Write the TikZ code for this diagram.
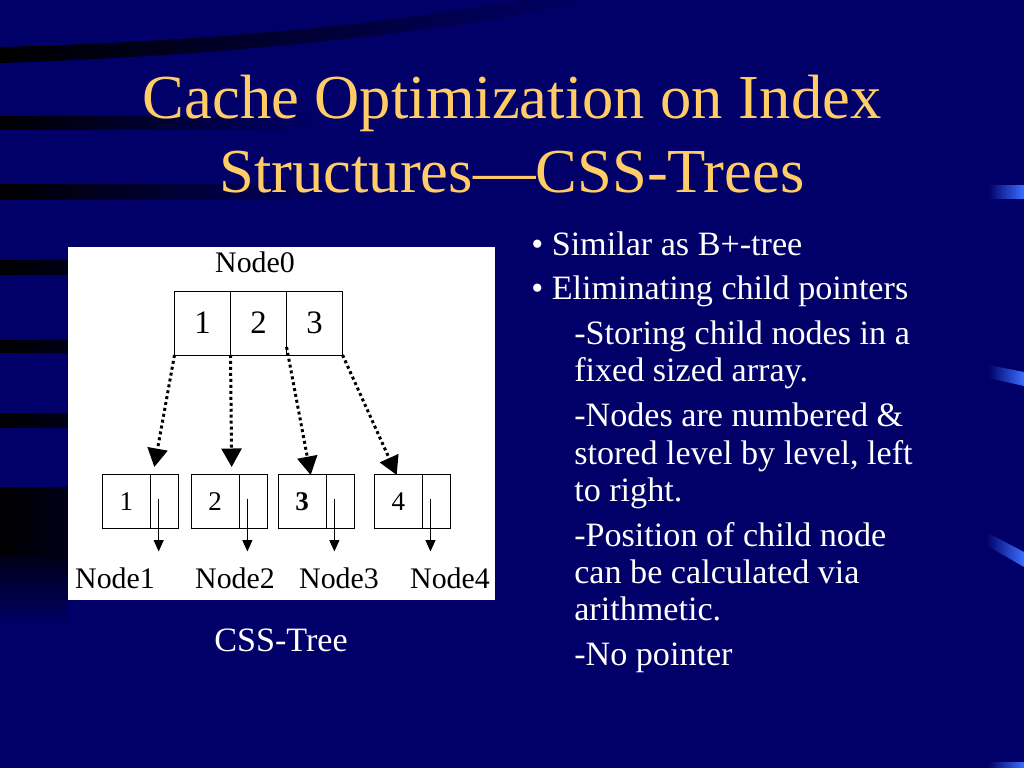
\documentclass[tikz,border=0pt]{standalone}
\usepackage{fontspec}
\setmainfont{Liberation Serif}
\usepackage{tikz}
\usetikzlibrary{arrows.meta,positioning,calc}
\definecolor{bgnavy}{RGB}{0,0,104}
\definecolor{titlec}{RGB}{255,204,102}
\definecolor{tickc}{RGB}{60,110,255}

\begin{document}
\begin{tikzpicture}[x=0.703125pt, y=-0.703125pt,
  titletext/.style={text=titlec, font=\fontsize{44}{51}\selectfont, inner sep=0pt},
  bodytext/.style={text=white, font=\fontsize{24}{26}\selectfont, inner sep=0pt, anchor=base west},
  label/.style={font=\fontsize{21}{24}\selectfont, inner sep=0pt, anchor=base},
  topcell/.style={draw, line width=0.7pt, minimum width=39.4pt, minimum height=45pt, inner sep=0pt, outer sep=0pt, font=\fontsize{23}{25}\selectfont},
  keycell/.style={draw, line width=0.7pt, minimum width=34pt, minimum height=37.8pt, inner sep=0pt, outer sep=0pt, font=\fontsize{19}{21}\selectfont},
  ptrcell/.style={draw, line width=0.7pt, minimum width=19.7pt, minimum height=37.8pt, inner sep=0pt, outer sep=0pt},
  dotarrow/.style={line width=2.1pt, dash pattern=on 2.1pt off 2.1pt, -{Triangle[width=14pt,length=13pt]}},
  thinarrow/.style={line width=0.7pt, -{Triangle[width=7pt,length=8pt]}}]
  % background
  \fill[bgnavy] (0,0) rectangle (1024,768);
  \useasboundingbox (0,0) rectangle (1024,768);
  \shade[left color=black, right color=bgnavy] (0,63) .. controls (250,55) and (450,30) .. (600,0) -- (520,0) .. controls (380,25) and (200,42) .. (0,47) -- cycle;
  \foreach \ya/\yb/\xr in {117/130/320, 185/200/340, 261/275/300, 340/352/300, 413/427/300, 487/555/300} {
    \shade[left color=black, middle color=black!60!bgnavy, right color=bgnavy] (0,\ya) rectangle (\xr,\yb);
  }
  \shade[top color=black!80!bgnavy, bottom color=bgnavy] (0,555) rectangle (68,625);
  % ticks on the right
  \shade[left color=bgnavy, right color=tickc] (988,186) rectangle (1024,199);
  \shade[left color=bgnavy, right color=tickc] (988,365) -- (1024,372) -- (1024,386) -- (988,378) -- cycle;
  \shade[left color=bgnavy, right color=tickc] (986,532) -- (1024,552) -- (1024,567) -- (986,545) -- cycle;
  \shade[left color=bgnavy, right color=tickc] (988,762) rectangle (1024,768);

  % title
  \node[titletext, anchor=base] (title1) at (512,119) {Cache Optimization on Index};
  \node[titletext, anchor=base] (title2) at (512,193) {Structures—CSS-Trees};

  % picture of the tree
  \fill[white] (68,247) rectangle (495,600);
  \node[label] (n0) at (255,273) {Node0};
  \node[topcell] (t1) at (202.5,323) {1};
  \node[topcell, right=0pt of t1] (t2) {2};
  \node[topcell, right=0pt of t2] (t3) {3};

  \node[keycell] (k1) at (126.5,501.5) {1};
  \node[ptrcell, right=0pt of k1] (p1) {};
  \node[keycell] (k2) at (215.2,501.5) {2};
  \node[ptrcell, right=0pt of k2] (p2) {};
  \node[keycell] (k3) at (302.2,501.5) {\textbf{3}};
  \node[ptrcell, right=0pt of k3] (p3) {};
  \node[keycell] (k4) at (398.3,501.5) {4};
  \node[ptrcell, right=0pt of k4] (p4) {};

  \coordinate (tip1) at (154.3,467);
  \coordinate (tip2) at (231.7,467);
  \coordinate (tip3) at (310.7,475);
  \coordinate (tip4) at (396.7,475);
  \draw[dotarrow] (t1.south west) -- (tip1);
  \draw[dotarrow] (t2.south west) -- (tip2);
  \draw[dotarrow] ($(t3.south west)+(0,-8)$) -- (tip3);
  \draw[dotarrow] (t3.south east) -- (tip4);

  \foreach \i in {1,...,4} {
    \draw[thinarrow] ($(p\i.west)+(8,-3)$) -- ++(0,53);
  }
  \node[label] (n1) at (115,588) {Node1};
  \node[label] (n2) at (235,588) {Node2};
  \node[label] (n3) at (339,588) {Node3};
  \node[label] (n4) at (450,588) {Node4};
  \node[bodytext, anchor=base] (cap) at (281,651.7) {CSS-Tree};

  % bullets
  \node[bodytext] (b1) at (531,255.7) {• Similar as B+-tree};
  \node[bodytext] (b2) at (531,300) {• Eliminating child pointers};
  \foreach \y/\t [count=\i] in {344.3/{-Storing child nodes in a}, 381.7/{fixed sized array.},
      426.7/{-Nodes are numbered \&}, 464.3/{stored level by level, left}, 501/{to right.},
      546/{-Position of child node}, 583.3/{can be calculated via}, 620/{arithmetic.},
      665/{-No pointer}} {
    \node[bodytext] (s\i) at (574,\y) {\t};
  }
\end{tikzpicture}
\end{document}
